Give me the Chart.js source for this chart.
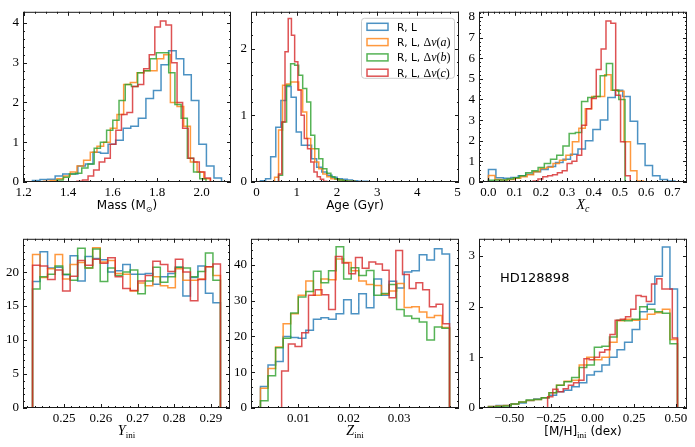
<!DOCTYPE html>
<html>
<head>
<meta charset="utf-8">
<script src="https://cdn.jsdelivr.net/npm/chart.js@4.4.1/dist/chart.umd.min.js"></script>
<style>
  html, body { margin: 0; padding: 0; background: #fff; }
  #page { position: relative; width: 695px; height: 447px; overflow: hidden; }
  #page canvas { position: absolute; }
</style>
</head>
<body>
<div id="page"></div>
<script>
// ===== DATA (histogram heights) =====
// series order: R,L | R,L,dnu(a) | R,L,dnu(b) | R,L,dnu(c)
const LABELS = ['R, L', 'R, L, Δν(a)', 'R, L, Δν(b)', 'R, L, Δν(c)'];

// Mass
const massLo = [1.24, 1.29, 1.35, 1.44];
const massHi = [2.09, 2.04, 2.02, 2.04];
const massRL = [0.04, 0.06, 0.07, 0.15, 0.2, 0.2, 0.4, 0.45, 0.75, 0.72, 0.95, 1.05, 1.35, 1.4, 1.6, 2.1, 2.3, 2.95, 3.3, 3.1, 2.7, 2.05, 0.95, 0.4, 0.1];
const massA = [0.02, 0.04, 0.08, 0.15, 0.25, 0.4, 0.55, 0.75, 0.9, 1.0, 1.35, 1.7, 2.45, 2.5, 2.75, 2.8, 2.8, 3.1, 3.2, 2.0, 1.9, 1.4, 0.5, 0.25, 0.08];
const massB = [0.05, 0.12, 0.2, 0.22, 0.35, 0.45, 0.85, 1.0, 1.3, 1.55, 2.05, 2.45, 2.4, 2.75, 2.8, 3.1, 3.25, 3.25, 2.75, 1.95, 1.6, 0.6, 0.25, 0.08];
const massC = [0.02, 0.05, 0.15, 0.3, 0.5, 0.6, 0.95, 1.3, 1.7, 1.75, 2.4, 2.45, 2.85, 3.2, 3.9, 4.05, 3.95, 3.0, 2.0, 1.35, 0.6, 0.5, 0.25, 0.1];
const massXTicks = [1.2, 1.4, 1.6, 1.8, 2.0];
const massYTicks = [0, 1, 2, 3, 4];

// Age
const ageLo = [0.1, 0.45, 0.55, 0.55];
const ageHi = [4.8, 2.45, 2.45, 1.75];
const ageRL = [0.02, 0.05, 0.38, 0.82, 1.22, 1.43, 1.27, 0.75, 0.55, 0.55, 0.35, 0.22, 0.15, 0.1, 0.07, 0.05, 0.04, 0.03, 0.02, 0.01, 0.01, 0.005, 0.005, 0.003, 0.003, 0.002, 0.002, 0.001, 0, 0, 0, 0, 0, 0, 0, 0, 0.001];
const ageA = [0.07, 0.78, 1.45, 1.47, 1.5, 1.5, 1.38, 1.05, 0.65, 0.5, 0.3, 0.2, 0.12, 0.08, 0.05, 0.04, 0.03, 0.02, 0.01, 0.01];
const ageB = [0.1, 0.9, 1.45, 1.77, 1.75, 1.6, 1.4, 1.2, 0.7, 0.5, 0.35, 0.2, 0.13, 0.08, 0.05, 0.03, 0.02, 0.01, 0.01];
const ageC = [0.12, 0.9, 1.95, 2.45, 2.2, 1.8, 1.38, 1.0, 0.65, 0.5, 0.3, 0.15, 0.08, 0.04, 0.01];
const ageXTicks = [0, 1, 2, 3, 4, 5];
const ageYTicks = [0, 1, 2];

// Xc
const xcLo = [0, 0, 0, 0.17];
const xcHi = [0.71, 0.59, 0.52, 0.54];
const xcRL = [0.6, 0.2, 0.18, 0.22, 0.3, 0.38, 0.5, 0.6, 0.75, 0.95, 1.1, 1.35, 1.6, 2.0, 2.55, 3.0, 4.1, 4.45, 4.15, 2.95, 1.85, 0.8, 0.3, 0.12, 0.05];
const xcA = [0.32, 0.12, 0.1, 0.12, 0.18, 0.25, 0.35, 0.5, 0.65, 0.72, 0.9, 1.05, 1.3, 1.95, 2.6, 3.55, 4.15, 4.15, 5.2, 4.45, 4.4, 1.95, 0.55, 0.05];
const xcB = [0.08, 0.1, 0.1, 0.15, 0.2, 0.3, 0.45, 0.55, 0.7, 0.9, 1.1, 1.3, 1.75, 2.35, 2.4, 3.9, 4.1, 4.15, 5.15, 5.75, 4.45, 4.0];
const xcC = [0.05, 0.15, 0.25, 0.3, 0.35, 0.45, 0.55, 0.9, 1.0, 1.3, 2.75, 3.55, 4.05, 5.45, 6.45, 7.8, 7.7, 4.2, 1.95, 0.3];
const xcXTicks = [0, 0.1, 0.2, 0.3, 0.4, 0.5, 0.6, 0.7];
const xcYTicks = [0, 1, 2, 3, 4, 5, 6, 7, 8];

// Y_ini
const yiniLo = [0.2414, 0.2414, 0.2414, 0.2414];
const yiniHi = [0.2926, 0.2926, 0.2926, 0.2926];
const yiniRL = [18.6, 23.0, 20.6, 20.7, 19.6, 22.4, 18.7, 22.3, 22.0, 21.8, 20.0, 20.2, 21.1, 19.7, 19.7, 19.8, 18.2, 19.3, 19.8, 20.7, 16.5, 19.2, 20.9, 16.9, 15.5];
const yiniA = [22.6, 19.2, 20.5, 22.6, 19.0, 21.1, 21.4, 20.6, 23.6, 21.5, 21.7, 19.8, 19.7, 17.2, 18.4, 18.0, 19.3, 18.0, 17.7, 20.5, 18.8, 18.8, 19.0, 20.8, 19.5];
const yiniB = [17.5, 19.3, 19.7, 20.9, 19.7, 18.8, 23.5, 20.6, 23.4, 18.6, 20.6, 19.5, 20.0, 20.3, 16.8, 18.7, 20.7, 18.5, 19.3, 20.7, 20.6, 19.3, 20.1, 22.8, 18.8];
const yiniC = [21.0, 20.9, 18.9, 20.3, 17.2, 19.4, 21.7, 21.0, 21.9, 21.3, 22.1, 19.3, 17.6, 17.3, 18.7, 19.5, 21.6, 21.1, 20.1, 21.9, 20.0, 15.8, 18.9, 20.8, 21.2];
const yiniXTicks = [0.25, 0.26, 0.27, 0.28, 0.29];
const yiniYTicks = [0, 5, 10, 15, 20];

// Z_ini
const ziniLo = [0.0025, 0.0025, 0.0025, 0.0067];
const ziniHi = [0.040, 0.040, 0.040, 0.040];
const ziniRL = [6, 12, 13, 20, 19.7, 19.5, 21.7, 24.8, 25.2, 24.8, 26.3, 30.2, 26.3, 31.9, 28.0, 36.0, 31.5, 35.4, 33.5, 38.0, 38.3, 42.8, 41.3, 44.5, 43.0];
const ziniA = [5.5, 11, 17, 23.5, 26.3, 31.5, 35.5, 31.5, 36, 35.8, 41.6, 40.6, 38.3, 35.5, 34.5, 34.2, 31.8, 32.7, 34.8, 28.1, 28.3, 26.8, 25.3, 25.8, 22.5];
const ziniB = [2, 9, 16.8, 19.5, 26.5, 31, 32.5, 38.2, 35, 38.3, 45, 36, 39.2, 37, 38.4, 31.5, 32, 34.5, 27.5, 25.7, 25.0, 24, 19, 22.6, 22.3];
const ziniC = [10.3, 17.9, 17.2, 21.0, 31.5, 33.0, 31.6, 27.5, 42.3, 40.5, 37.5, 42.0, 39.0, 40.8, 40.2, 38.5, 30.8, 44.0, 37.3, 33.4, 35.0, 33.0, 28.3, 29.0, 23.5];
const ziniXTicks = [0.01, 0.02, 0.03];
const ziniYTicks = [0, 10, 20, 30, 40];

// [M/H]_ini
const mhLo = [-0.625, -0.625, -0.625, -0.27];
const mhHi = [0.51, 0.51, 0.51, 0.51];
const mhRL = [0.03, 0.05, 0.05, 0.08, 0.1, 0.15, 0.18, 0.2, 0.25, 0.32, 0.35, 0.42, 0.5, 0.65, 0.72, 0.85, 1.0, 1.15, 1.3, 1.55, 1.9, 2.05, 2.6, 3.18, 2.35];
const mhA = [0.03, 0.04, 0.05, 0.08, 0.12, 0.15, 0.17, 0.2, 0.3, 0.45, 0.53, 0.55, 0.85, 1.0, 0.95, 1.0, 1.3, 1.72, 1.75, 1.73, 1.75, 1.85, 1.88, 1.95, 1.35];
const mhB = [0.02, 0.03, 0.04, 0.08, 0.12, 0.16, 0.17, 0.2, 0.3, 0.45, 0.52, 0.6, 0.8, 0.85, 1.2, 1.22, 1.4, 1.73, 1.72, 1.75, 2.0, 1.95, 1.9, 1.87, 1.27];
const mhC = [0.22, 0.37, 0.32, 0.38, 0.45, 0.5, 0.55, 0.97, 0.95, 1.0, 1.1, 1.15, 1.45, 1.73, 1.75, 1.8, 1.95, 2.22, 2.2, 2.1, 2.45, 2.55, 2.35, 2.35, 1.38];
const mhXTicks = [-0.5, -0.25, 0, 0.25, 0.5];
const mhYTicks = [0, 1, 2, 3];

// ===== STYLE =====
const COLORS = ['rgba(31,119,180,0.8)', 'rgba(255,127,14,0.8)', 'rgba(44,160,44,0.8)', 'rgba(214,39,40,0.8)'];
const SANS = '"DejaVu Sans", sans-serif';
const SERIF = '"Liberation Serif", serif';
const fSans = '12px ' + SANS;
const fSub = '9px ' + SERIF;
const fIt = 'italic 14px ' + SERIF;

const panels = [
  { frame: [23, 231, 6, 182], xr: [1.1975, 2.1325], yr: [0, 4.28], xt: massXTicks, yt: massYTicks, minor: [0.05, 0.2], dec: 1,
    lo: massLo, hi: massHi, sets: [massRL, massA, massB, massC],
    title: [['Mass (M', fSans], ['⊙', '8px ' + SANS, 3], [')', fSans]] },
  { frame: [251, 459, 6, 182], xr: [-0.135, 5.035], yr: [0, 2.55], xt: ageXTicks, yt: ageYTicks, minor: [0.2, 0.2], dec: 0,
    lo: ageLo, hi: ageHi, sets: [ageRL, ageA, ageB, ageC],
    title: [['Age (Gyr)', fSans]], legend: true },
  { frame: [479, 687, 6, 182], xr: [-0.036, 0.756], yr: [0, 8.25], xt: xcXTicks, yt: xcYTicks, minor: [0.02, 0.2], dec: 1,
    lo: xcLo, hi: xcHi, sets: [xcRL, xcA, xcB, xcC],
    title: [['X', fIt], ['c', 'italic 10px ' + SERIF, 3]] },
  { frame: [23, 230, 233, 408], xr: [0.2388, 0.2952], yr: [0, 24.9], xt: yiniXTicks, yt: yiniYTicks, minor: [0.002, 1], dec: 2,
    lo: yiniLo, hi: yiniHi, sets: [yiniRL, yiniA, yiniB, yiniC],
    title: [['Y', fIt], ['ini', fSub, 3]] },
  { frame: [251, 459, 233, 408], xr: [0.000625, 0.041875], yr: [0, 47.25], xt: ziniXTicks, yt: ziniYTicks, minor: [0.002, 2], dec: 2,
    lo: ziniLo, hi: ziniHi, sets: [ziniRL, ziniA, ziniB, ziniC],
    title: [['Z', fIt], ['ini', fSub, 3]] },
  { frame: [479, 687, 233, 408], xr: [-0.682, 0.567], yr: [0, 3.34], xt: mhXTicks, yt: mhYTicks, minor: [0.05, 0.2], dec: 2,
    lo: mhLo, hi: mhHi, sets: [mhRL, mhA, mhB, mhC],
    title: [['[M/H]', fSans], ['ini', fSub, 3], [' (dex)', fSans]], note: 'HD128898' }
];

// histogram -> step outline (left edge of each bin carries its height)
function stepPoints(lo, hi, counts) {
  const w = (hi - lo) / counts.length;
  const pts = [{ x: lo, y: 0 }];
  counts.forEach((c, i) => pts.push({ x: lo + i * w, y: c }));
  pts.push({ x: hi, y: 0 });
  return pts;
}

function fmt(v, dec) {
  return Number(v).toFixed(dec).replace('-', '\u2212');
}

function minorVals(min, max, step) {
  const out = [];
  for (let k = Math.ceil(min / step - 1e-9); k * step <= max + 1e-12; k++) out.push(k * step);
  return out;
}

function drawRuns(ctx, runs, x, y, center) {
  let total = 0;
  runs.forEach(r => { ctx.font = r[1]; total += ctx.measureText(r[0]).width; });
  let cx = center ? x - total / 2 : x;
  ctx.textAlign = 'left';
  ctx.textBaseline = 'alphabetic';
  runs.forEach(r => {
    ctx.font = r[1];
    ctx.fillText(r[0], cx, y + (r[2] || 0));
    cx += ctx.measureText(r[0]).width;
  });
}

function legendRuns(i) {
  const sans = '10.5px ' + SANS, serif = '12px ' + SERIF, ital = 'italic 12px ' + SERIF;
  if (i === 0) return [['R, L', sans]];
  return [['R, L, ', sans], ['Δ', serif], ['ν', ital], ['(', serif], ['abc'[i - 1], ital], [')', serif]];
}

function decor(p, k) {
  return {
    id: 'decor' + k,
    afterDatasetsDraw(chart) {
      const { ctx, chartArea: a, scales: { x, y } } = chart;
      ctx.save();
      ctx.strokeStyle = '#1a1a1a';
      ctx.lineWidth = 1;
      ctx.beginPath();
      const seg = (x1, y1, x2, y2) => { ctx.moveTo(x1, y1); ctx.lineTo(x2, y2); };
      const xs = (vals, len) => vals.forEach(v => {
        const px = Math.round(x.getPixelForValue(v)) + 0.5;
        seg(px, a.bottom, px, a.bottom - len); seg(px, a.top, px, a.top + len);
      });
      const ys = (vals, len) => vals.forEach(v => {
        const py = Math.round(y.getPixelForValue(v)) + 0.5;
        seg(a.left, py, a.left + len, py); seg(a.right, py, a.right - len, py);
      });
      xs(minorVals(x.min, x.max, p.minor[0]), 2);
      ys(minorVals(y.min, y.max, p.minor[1]), 2);
      xs(p.xt, 4);
      ys(p.yt, 4);
      ctx.stroke();
      ctx.strokeRect(a.left + 0.5, a.top + 0.5, a.right - a.left - 1, a.bottom - a.top - 1);

      ctx.fillStyle = '#000';
      drawRuns(ctx, p.title, (a.left + a.right) / 2, a.bottom + 27, true);

      if (p.legend) {
        const bx = a.right - 98, by = a.top + 6, bw = 93, bh = 60;
        ctx.beginPath();
        ctx.roundRect(bx + 0.5, by + 0.5, bw, bh, 3);
        ctx.fillStyle = 'rgba(255,255,255,0.8)';
        ctx.fill();
        ctx.strokeStyle = '#cccccc';
        ctx.lineWidth = 1;
        ctx.stroke();
        LABELS.forEach((lab, i) => {
          const ry = by + 9 + i * 15.3;
          ctx.strokeStyle = COLORS[i];
          ctx.lineWidth = 1.5;
          ctx.strokeRect(bx + 6, ry - 3.5, 21, 7);
          ctx.fillStyle = '#000';
          drawRuns(ctx, legendRuns(i), bx + 36, ry + 4, false);
        });
      }
      if (p.note) {
        ctx.fillStyle = '#000';
        ctx.font = '13px ' + SANS;
        ctx.textBaseline = 'middle';
        ctx.fillText(p.note, a.left + 21, a.top + 40);
      }
      ctx.restore();
    }
  };
}

const page = document.getElementById('page');
const padL = 23, padR = 8, padT = 6, padB = 40;

panels.forEach((p, k) => {
  const [L, R, T, B] = p.frame;
  const cv = document.createElement('canvas');
  cv.width = R - L + padL + padR;
  cv.height = B - T + padT + padB;
  cv.style.left = (L - padL) + 'px';
  cv.style.top = (T - padT) + 'px';
  page.appendChild(cv);

  const tickFont = { family: 'Liberation Serif', size: 13 };
  new Chart(cv.getContext('2d'), {
    type: 'line',
    data: {
      datasets: p.sets.map((vals, i) => ({
        label: LABELS[i],
        data: stepPoints(p.lo[i], p.hi[i], vals),
        borderColor: COLORS[i],
        borderWidth: 1.5,
        pointRadius: 0,
        fill: false,
        stepped: true,
        order: 4 - i
      }))
    },
    options: {
      responsive: false,
      animation: false,
      events: [],
      layout: { padding: { left: 0, right: padR, top: padT, bottom: 0 }, autoPadding: false },
      scales: {
        x: {
          type: 'linear', min: p.xr[0], max: p.xr[1], bounds: 'data',
          afterBuildTicks: s => { s.ticks = p.xt.map(v => ({ value: v })); },
          afterFit: s => { s.height = padB; },
          grid: { display: false, drawTicks: false },
          border: { display: false },
          ticks: { autoSkip: false, maxRotation: 0, minRotation: 0, padding: 3, color: '#000', font: tickFont,
            callback: v => fmt(v, p.dec) }
        },
        y: {
          type: 'linear', min: p.yr[0], max: p.yr[1], bounds: 'data',
          afterBuildTicks: s => { s.ticks = p.yt.map(v => ({ value: v })); },
          afterFit: s => { s.width = padL; },
          grid: { display: false, drawTicks: false },
          border: { display: false },
          ticks: { autoSkip: false, padding: 4, color: '#000', font: tickFont,
            callback: v => fmt(v, 0) }
        }
      },
      plugins: { legend: { display: false }, tooltip: { enabled: false } }
    },
    plugins: [decor(p, k)]
  });
});
</script>
</body>
</html>
